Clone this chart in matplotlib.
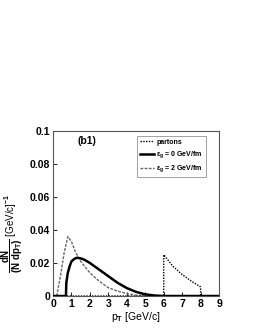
import numpy as np
import matplotlib
matplotlib.use("Agg")
import matplotlib.pyplot as plt

plt.rcParams['font.family'] = ['Liberation Sans', 'DejaVu Sans']
plt.rcParams['font.weight'] = 'bold'
plt.rcParams['mathtext.fontset'] = 'custom'
plt.rcParams['mathtext.rm'] = 'Liberation Sans:bold'
plt.rcParams['mathtext.it'] = 'Liberation Sans:bold'
plt.rcParams['mathtext.bf'] = 'Liberation Sans:bold'

# partons (dotted)
parton_x = [0.0, 6.0, 6.0, 6.5, 7.0, 7.5, 8.0, 8.0, 9.0]
parton_y = [0.0, 0.0, 0.025, 0.018, 0.013, 0.009, 0.0055, 0.0, 0.0]

# eps = 0 GeV/fm (solid)
eps0_x = [0.0, 0.7, 0.72, 0.8, 0.9, 1.0, 1.1, 1.2, 1.3, 1.5, 1.7, 2.0, 2.5, 3.0, 3.5, 4.0, 4.5, 5.0, 5.5, 6.0, 9.0]
eps0_y = [0.0, 0.0, 0.008, 0.014, 0.018, 0.021, 0.022, 0.0228, 0.0232, 0.0228, 0.022, 0.020, 0.016, 0.012, 0.008, 0.0048, 0.0025, 0.001, 0.0003, 0.0, 0.0]

# eps = 2 GeV/fm (gray dashed)
eps2_x = [0.2, 0.4, 0.6, 0.8, 1.0, 1.2, 1.5, 2.0, 2.5, 3.0, 3.5, 4.0, 4.5, 5.0]
eps2_y = [0.0, 0.012, 0.026, 0.036, 0.033, 0.027, 0.021, 0.014, 0.009, 0.005, 0.003, 0.0015, 0.0005, 0.0]

fig = plt.figure(figsize=(2.55, 3.3), dpi=100)
ax = fig.add_axes([0.208, 0.103, 0.651, 0.5])

ax.plot(eps2_x, eps2_y, color='#666666', lw=1.0, ls=(0, (2, 1)), label=r'$\epsilon_{\rm g}$ = 2 GeV/fm', zorder=2)
ax.plot(eps0_x, eps0_y, color='black', lw=1.8, label=r'$\epsilon_{\rm g}$ = 0 GeV/fm', zorder=3)
ax.plot(parton_x, parton_y, color='black', lw=1.0, ls=(0, (1, 1)), label='partons', zorder=4)

ax.set_xlim(0, 9)
ax.set_ylim(0, 0.1)
ax.set_xticks(range(0, 10))
ax.set_yticks([0, 0.02, 0.04, 0.06, 0.08, 0.1])
ax.set_yticklabels(['0', '0.02', '0.04', '0.06', '0.08', '0.1'])
ax.tick_params(direction='in', labelsize=7.5, length=3, width=0.6, pad=2)
for s in ax.spines.values():
    s.set_linewidth(0.8)
    s.set_color('#555555')

ax.set_xlabel(r'p$_{\rm T}$ [GeV/c]', fontsize=7.5, labelpad=1)
ax.set_ylabel(r'$\dfrac{\rm dN}{\rm (N\ dp_T)}$ [GeV/c]$^{-1}$', fontsize=7)
ax.yaxis.set_label_coords(-0.17, 0.38)
ax.text(1.3, 0.092, '(b1)', fontsize=7.5)

handles, labels = ax.get_legend_handles_labels()
leg = ax.legend(handles[::-1], labels[::-1], loc='upper right', bbox_to_anchor=(0.94, 0.99),
                fontsize=5, frameon=True, fancybox=False, edgecolor='#777777',
                handlelength=2.0, borderpad=0.4, labelspacing=0.5, handletextpad=0.4)
leg.get_frame().set_linewidth(0.6)

fig.savefig('out.png', dpi=100)
